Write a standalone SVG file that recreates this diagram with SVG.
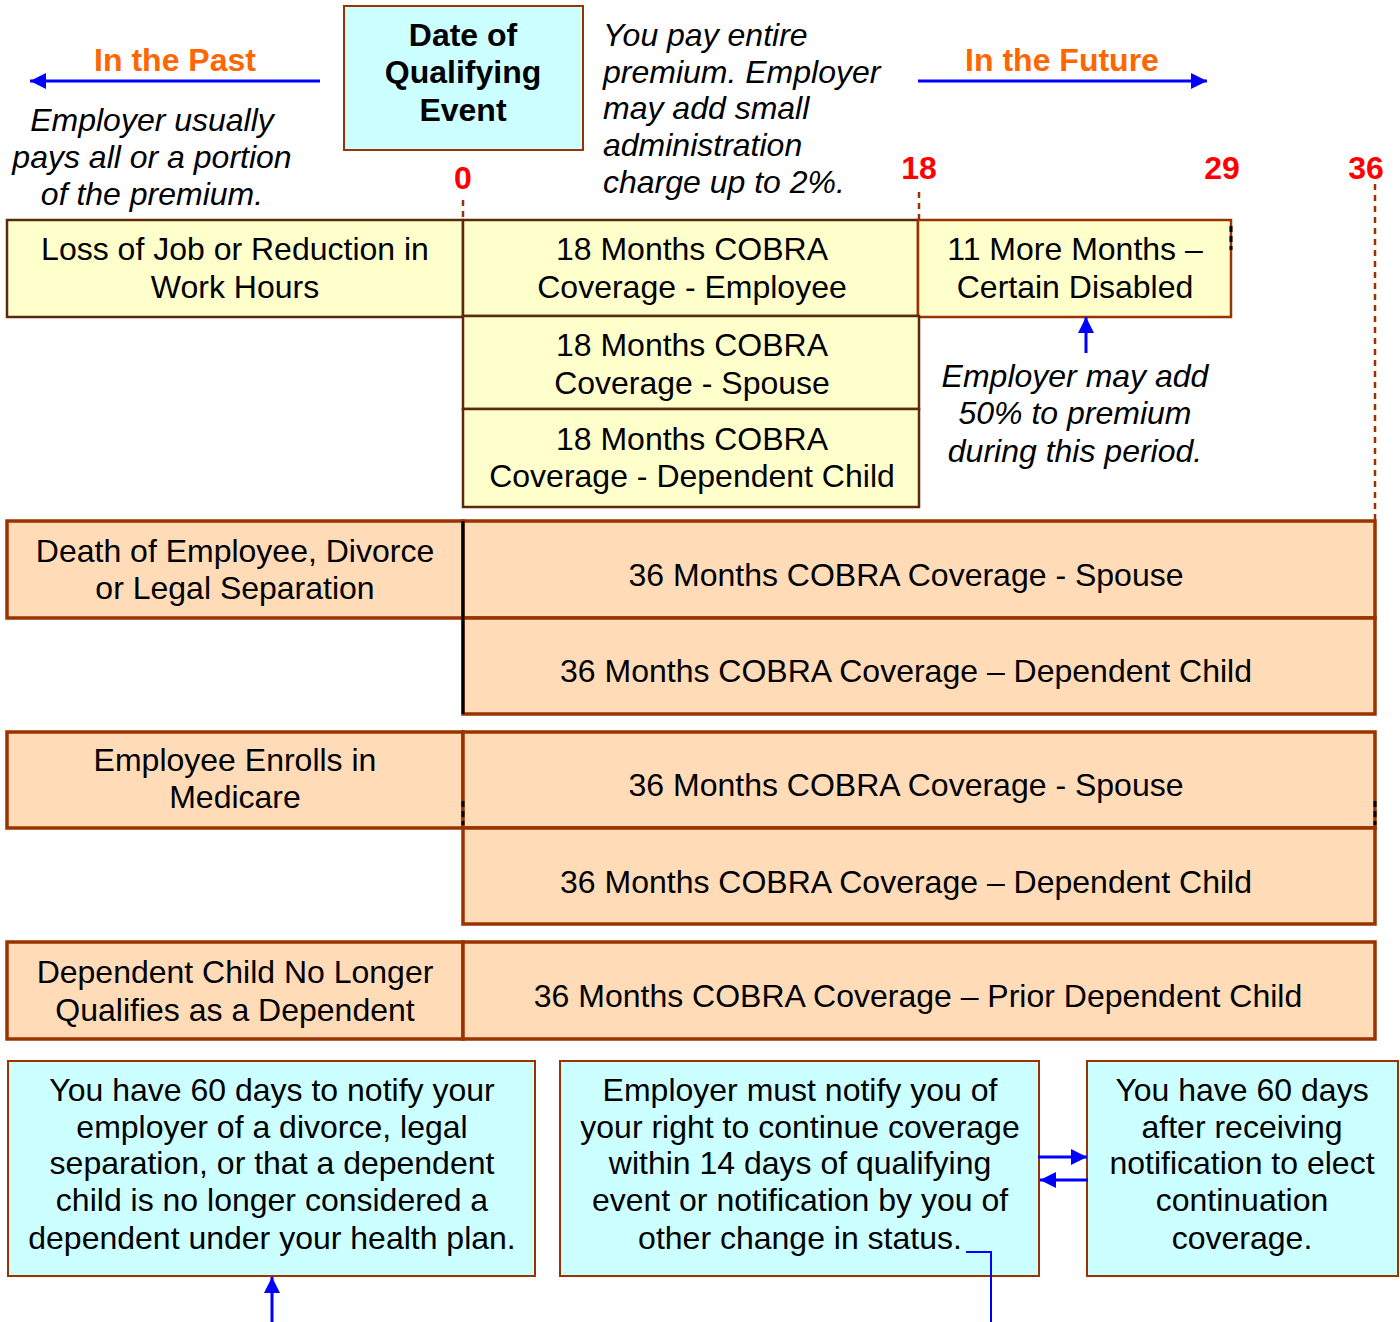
<svg xmlns="http://www.w3.org/2000/svg" width="1400" height="1322" viewBox="0 0 1400 1322">
<defs>
<marker id="ah" viewBox="0 0 10 10" refX="10" refY="5" markerWidth="16" markerHeight="16" markerUnits="userSpaceOnUse" orient="auto"><path d="M0,0 L10,5 L0,10 z" fill="#0000FF"/></marker>
<style>
text{font-family:"Liberation Sans",Arial,sans-serif;font-size:32px;fill:#000;text-anchor:middle}
.it{font-style:italic}
.st{text-anchor:start}
.b{font-weight:bold}
.or{fill:#FF6600;font-weight:bold}
.red{fill:#FF0000;font-weight:bold}
.yel{fill:#FFFFCC;stroke:#5c2a0a;stroke-width:2.5}
.pea{fill:#FFDBB8;stroke:#993300;stroke-width:3.5}
.cy{fill:#CCFFFF;stroke:#993300;stroke-width:2}
.arr{stroke:#0000FF;stroke-width:3;fill:none}
.dash{stroke:#993300;stroke-width:2.5;stroke-dasharray:6 5;fill:none}
</style>
</defs>
<rect width="1400" height="1322" fill="#FFFFFF"/>

<g id="header">
<text class="or" x="175" y="71">In the Past</text>
<text class="or" x="1062" y="71">In the Future</text>
<text class="it" x="152" y="131">Employer usually</text>
<text class="it" x="152" y="168">pays all or a portion</text>
<text class="it" x="152" y="205">of the premium.</text>
<text class="it st" x="603" y="46">You pay entire</text>
<text class="it st" x="603" y="83">premium. Employer</text>
<text class="it st" x="603" y="119">may add small</text>
<text class="it st" x="603" y="156">administration</text>
<text class="it st" x="603" y="193">charge up to 2%.</text>
<text class="red" x="463" y="189">0</text>
<text class="red" x="919" y="179">18</text>
<text class="red" x="1222" y="179">29</text>
<text class="red" x="1366" y="179">36</text>
<text class="it" x="1075" y="387">Employer may add</text>
<text class="it" x="1075" y="424">50% to premium</text>
<text class="it" x="1075" y="462">during this period.</text>
</g>

<g id="qualifying-event">
<rect class="cy" x="344" y="6" width="239" height="144"/>
<text class="b" x="463" y="46">Date of</text>
<text class="b" x="463" y="83">Qualifying</text>
<text class="b" x="463" y="121">Event</text>
</g>

<g id="timeline-marks">
<line class="dash" x1="463" y1="200" x2="463" y2="220"/>
<line class="dash" x1="919" y1="192" x2="919" y2="220"/>
<line class="dash" x1="1375" y1="184" x2="1375" y2="521"/>
</g>

<g id="loss-of-job">
<rect class="yel" x="7" y="220" width="456" height="97"/>
<text x="235" y="260">Loss of Job or Reduction in</text>
<text x="235" y="298">Work Hours</text>
</g>
<g id="cobra18-employee">
<rect class="yel" x="463" y="220" width="455" height="96"/>
<text x="692" y="260">18 Months COBRA</text>
<text x="692" y="298">Coverage - Employee</text>
</g>
<g id="more11-disabled">
<rect class="yel" x="918" y="220" width="313" height="97" style="stroke:#993300"/>
<line x1="1231" y1="226" x2="1231" y2="250" stroke="#000" stroke-width="3" stroke-dasharray="6 4"/>
<text x="1075" y="260">11 More Months –</text>
<text x="1075" y="298">Certain Disabled</text>
</g>
<g id="cobra18-spouse">
<rect class="yel" x="463" y="316" width="456" height="93"/>
<text x="692" y="356">18 Months COBRA</text>
<text x="692" y="394">Coverage - Spouse</text>
</g>
<g id="cobra18-child">
<rect class="yel" x="463" y="409" width="456" height="98"/>
<text x="692" y="450">18 Months COBRA</text>
<text x="692" y="487">Coverage - Dependent Child</text>
</g>

<g id="death-divorce">
<rect class="pea" x="7" y="521" width="456" height="97"/>
<text x="235" y="562">Death of Employee, Divorce</text>
<text x="235" y="599">or Legal Separation</text>
</g>
<g id="cobra36-spouse-a">
<rect class="pea" x="463" y="521" width="912" height="97"/>
<text x="906" y="586">36 Months COBRA Coverage - Spouse</text>
</g>
<g id="cobra36-child-a">
<rect class="pea" x="463" y="618" width="912" height="96"/>
<text x="906" y="682">36 Months COBRA Coverage – Dependent Child</text>
</g>
<line x1="463" y1="521" x2="463" y2="714" stroke="#000" stroke-width="3"/>

<g id="medicare">
<rect class="pea" x="7" y="732" width="456" height="96"/>
<text x="235" y="771">Employee Enrolls in</text>
<text x="235" y="808">Medicare</text>
</g>
<g id="cobra36-spouse-b">
<rect class="pea" x="463" y="732" width="912" height="96"/>
<text x="906" y="796">36 Months COBRA Coverage - Spouse</text>
</g>
<g id="cobra36-child-b">
<rect class="pea" x="463" y="828" width="912" height="96"/>
<text x="906" y="893">36 Months COBRA Coverage – Dependent Child</text>
</g>
<line x1="463" y1="801" x2="463" y2="825" stroke="#000" stroke-width="3" stroke-dasharray="6 4"/>
<line x1="1375" y1="801" x2="1375" y2="825" stroke="#000" stroke-width="3" stroke-dasharray="6 4"/>

<g id="child-no-longer">
<rect class="pea" x="7" y="942" width="456" height="97"/>
<text x="235" y="983">Dependent Child No Longer</text>
<text x="235" y="1021">Qualifies as a Dependent</text>
</g>
<g id="cobra36-prior-child">
<rect class="pea" x="463" y="942" width="912" height="97"/>
<text x="918" y="1007">36 Months COBRA Coverage – Prior Dependent Child</text>
</g>

<g id="notify-60-days">
<rect class="cy" x="8" y="1061" width="527" height="215"/>
<text x="272" y="1101">You have 60 days to notify your</text>
<text x="272" y="1138">employer of a divorce, legal</text>
<text x="272" y="1174">separation, or that a dependent</text>
<text x="272" y="1211">child is no longer considered a</text>
<text x="272" y="1249">dependent under your health plan.</text>
</g>
<g id="employer-notify">
<rect class="cy" x="560" y="1061" width="479" height="215"/>
<text x="800" y="1101">Employer must notify you of</text>
<text x="800" y="1138">your right to continue coverage</text>
<text x="800" y="1174">within 14 days of qualifying</text>
<text x="800" y="1211">event or notification by you of</text>
<text x="800" y="1249">other change in status.</text>
</g>
<g id="elect-60-days">
<rect class="cy" x="1087" y="1061" width="311" height="215"/>
<text x="1242" y="1101">You have 60 days</text>
<text x="1242" y="1138">after receiving</text>
<text x="1242" y="1174">notification to elect</text>
<text x="1242" y="1211">continuation</text>
<text x="1242" y="1249">coverage.</text>
</g>

<g id="connectors">
<line class="arr" x1="320" y1="81" x2="30" y2="81" marker-end="url(#ah)"/>
<line class="arr" x1="918" y1="81" x2="1207" y2="81" marker-end="url(#ah)"/>
<line class="arr" x1="1086" y1="353" x2="1086" y2="317" marker-end="url(#ah)"/>
<line class="arr" x1="1038" y1="1157" x2="1087" y2="1157" marker-end="url(#ah)"/>
<line class="arr" x1="1088" y1="1180" x2="1040" y2="1180" marker-end="url(#ah)"/>
<line class="arr" x1="272" y1="1322" x2="272" y2="1277" marker-end="url(#ah)"/>
<polyline points="966,1252 991,1252 991,1322" fill="none" stroke="#0000FF" stroke-width="2"/>
</g>
</svg>
